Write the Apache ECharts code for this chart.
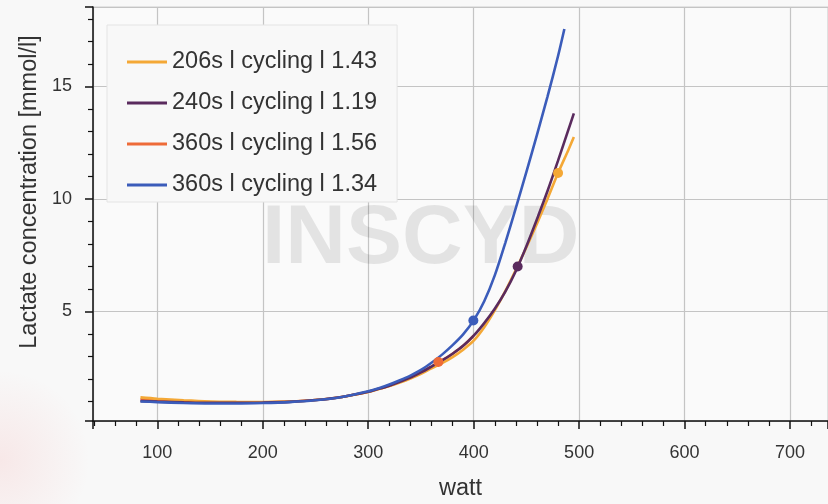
<!DOCTYPE html>
<html>
<head>
<meta charset="utf-8">
<script src="https://cdn.jsdelivr.net/npm/echarts@6/dist/echarts.min.js"></script>
<style>
  html, body { margin: 0; padding: 0; background: #f8f8f8; }
  #chart_lactate { width: 828px; height: 504px; }
</style>
</head>
<body>
<div id="chart_lactate"></div>
<script>
// legend names
const seriesNames = ['206s l cycling l 1.43', '240s l cycling l 1.19', '360s l cycling l 1.56', '360s l cycling l 1.34']
const seriesColors = ['#f4a836', '#5a2b5e', '#ee6b38', '#3b5cba']

// watt steps of the fitted curves
const watts = [84, 100, 125, 150, 175, 200, 225, 250, 275, 300, 310, 320, 330, 340, 350, 360, 370, 380, 390, 400, 410, 420, 430, 440, 450, 460, 470, 480, 490, 495]
const wattsBlue = [84, 100, 125, 150, 175, 200, 225, 250, 275, 300, 310, 320, 330, 340, 350, 360, 370, 380, 390, 400, 410, 420, 430, 440, 450, 460, 470, 480, 486]
const wattsRed = [84, 100, 125, 150, 175, 200, 225, 250, 275, 300, 310, 320, 330, 340, 350, 360, 370, 380, 390, 400]

// lactate [mmol/l]
const lactateOrange = [1.18, 1.12, 1.05, 1.00, 0.98, 0.97, 0.99, 1.06, 1.20, 1.42, 1.55, 1.68, 1.84, 2.02, 2.23, 2.47, 2.70, 2.97, 3.30, 3.70, 4.30, 5.05, 5.90, 6.85, 7.85, 8.90, 10.00, 11.15, 12.20, 12.75]
const lactatePurple = [1.02, 0.99, 0.96, 0.94, 0.94, 0.95, 0.98, 1.06, 1.20, 1.43, 1.56, 1.70, 1.87, 2.06, 2.29, 2.55, 2.82, 3.12, 3.47, 3.92, 4.48, 5.12, 5.88, 6.80, 7.90, 9.10, 10.35, 11.70, 13.10, 13.80]
const lactateRed = [1.10, 1.06, 1.00, 0.97, 0.96, 0.96, 0.99, 1.06, 1.20, 1.43, 1.56, 1.70, 1.87, 2.06, 2.29, 2.55, 2.82, 3.12, 3.47, 3.92]
const lactateBlue = [1.00, 0.97, 0.93, 0.91, 0.91, 0.93, 0.97, 1.05, 1.20, 1.45, 1.59, 1.75, 1.94, 2.15, 2.40, 2.72, 3.08, 3.50, 3.98, 4.60, 5.45, 6.60, 8.05, 9.60, 11.20, 12.85, 14.55, 16.35, 17.55]

// threshold markers (orange, purple, red, blue)
const markerWatts = [480, 441.7, 366.5, 399.7]
const markerLactate = [11.15, 7.0, 2.75, 4.6]

const fontName = 'Liberation Sans, Arial, sans-serif'

function pairs(xs, ys) {
  return xs.map((x, i) => [x, ys[i]])
}

function lineSeries(name, color, data) {
  return {
    name: name,
    type: 'line',
    smooth: 0.3,
    showSymbol: false,
    symbol: 'none',
    data: data,
    lineStyle: { color: color, width: 2.6 },
    itemStyle: { color: color },
    z: 3
  }
}

let series = [
  lineSeries(seriesNames[2], seriesColors[2], pairs(wattsRed, lactateRed)),
  lineSeries(seriesNames[0], seriesColors[0], pairs(watts, lactateOrange)),
  lineSeries(seriesNames[1], seriesColors[1], pairs(watts, lactatePurple)),
  lineSeries(seriesNames[3], seriesColors[3], pairs(wattsBlue, lactateBlue))
]
markerWatts.forEach((w, i) => {
  series.push({
    name: 'marker' + i,
    type: 'scatter',
    symbol: 'circle',
    symbolSize: 10,
    data: [[w, markerLactate[i]]],
    itemStyle: { color: seriesColors[i], opacity: 1 },
    z: 4
  })
})

let option = {
  backgroundColor: '#f8f8f8',
  animation: false,
  textStyle: { fontFamily: fontName },
  graphic: [
    {
      type: 'circle',
      shape: { cx: 0, cy: 460, r: 90 },
      style: {
        fill: {
          type: 'radial', x: 0.5, y: 0.5, r: 0.5,
          colorStops: [{ offset: 0, color: 'rgba(240,90,90,0.10)' }, { offset: 1, color: 'rgba(240,90,90,0)' }]
        }
      },
      z: 0
    },
    {
      type: 'text',
      left: 262,
      top: 198,
      style: {
        text: 'INSCYD',
        font: 'bold 84px ' + fontName,
        fill: 'rgba(0,0,0,0.09)'
      },
      z: 1
    }
  ],
  grid: {
    left: 93,
    right: 0,
    top: 7,
    bottom: 83,
    outerBoundsMode: 'none',
    show: true,
    backgroundColor: '#fafafa',
    borderColor: '#cfcfcf',
    borderWidth: 1
  },
  legend: {
    data: seriesNames,
    orient: 'vertical',
    left: 107,
    top: 25,
    padding: [25, 20, 5, 20],
    itemGap: 17,
    itemWidth: 40,
    itemHeight: 3,
    icon: 'rect',
    backgroundColor: '#f8f8f8',
    borderColor: '#e4e4e4',
    borderWidth: 1,
    textStyle: { fontSize: 23.5, color: '#333', lineHeight: 24, fontFamily: fontName }
  },
  xAxis: {
    type: 'value',
    min: 39,
    max: 736,
    name: 'watt',
    nameLocation: 'middle',
    nameGap: 56,
    nameTextStyle: { fontSize: 23.5, color: '#333' },
    axisLine: { show: true, onZero: false, lineStyle: { color: '#111', width: 1.5 } },
    axisTick: { show: true, inside: false, length: 8, lineStyle: { color: '#111', width: 1.5 } },
    minorTick: { show: true, splitNumber: 5, length: 5, lineStyle: { color: '#111', width: 1.2 } },
    axisLabel: { fontSize: 18, color: '#333', margin: 23, showMinLabel: false, showMaxLabel: false },
    splitLine: { show: true, lineStyle: { color: '#c4c4c4', width: 1.2 } }
  },
  yAxis: {
    type: 'value',
    min: 0.13,
    max: 18.53,
    splitNumber: 4,
    name: 'Lactate concentration [mmol/l]',
    nameLocation: 'middle',
    nameGap: 51,
    nameTextStyle: { fontSize: 23.5, color: '#333', padding: [0, 0, 0, 44] },
    axisLine: { show: true, onZero: false, lineStyle: { color: '#111', width: 1.5 } },
    axisTick: { show: true, inside: false, length: 8, lineStyle: { color: '#111', width: 1.5 } },
    minorTick: { show: true, splitNumber: 5, length: 5, lineStyle: { color: '#111', width: 1.2 } },
    axisLabel: { fontSize: 18, color: '#333', margin: 21, showMinLabel: false, showMaxLabel: false },
    splitLine: { show: true, lineStyle: { color: '#c4c4c4', width: 1.2 } }
  },
  series: series
}

let chart_lactate = echarts.init(document.getElementById('chart_lactate'))
chart_lactate.setOption(option)
</script>
</body>
</html>
